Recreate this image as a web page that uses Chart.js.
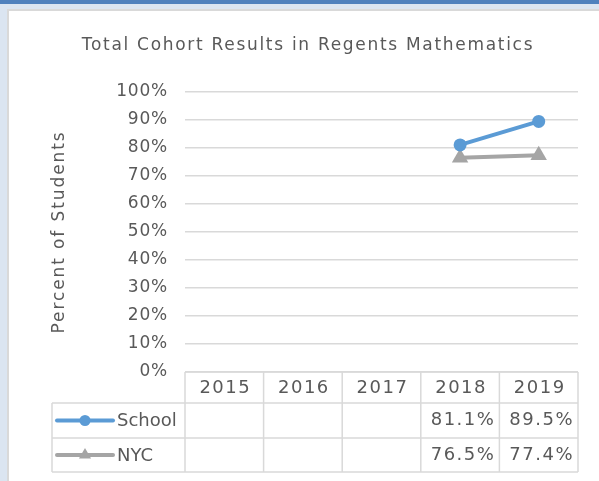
<!DOCTYPE html>
<html>
<head>
<meta charset="utf-8">
<script src="https://cdn.jsdelivr.net/npm/chart.js@4"></script>
<style>
    body { margin: 0; width: 599px; height: 481px; overflow: hidden; background: #dbe5f1; position: relative; }
    #band { position: absolute; left: 0; top: 0; width: 599px; height: 4px; background: #4f81bd; }
    #card { position: absolute; left: 7px; top: 9px; right: 0; bottom: 0; background: #fff; border-left: 2px solid #d9d9d9; border-top: 2px solid #d9d9d9; }
    canvas { position: absolute; left: 0; top: 0; }
</style>
</head>
<body>
<div id="band"></div>
<div id="card"></div>
<canvas id="cohortChart" width="599" height="481"></canvas>
<script>
const years = ['2015', '2016', '2017', '2018', '2019'];
const schoolValues = [null, null, null, 81.1, 89.5];
const nycValues = [null, null, null, 76.5, 77.4];
const yTicks = [0, 10, 20, 30, 40, 50, 60, 70, 80, 90, 100];
const chartTitle = 'Total Cohort Results in Regents Mathematics';
const yTitle = 'Percent of Students';

const textColor = '#595959';
const fontFamily = '"DejaVu Sans", sans-serif';
const schoolColor = '#5b9bd5';
const nycColor = '#a5a5a5';
const borderColor = '#d9d9d9';

// the original font is wide, so spread the letters a bit
const spacing = {
    id: 'spacing',
    beforeUpdate(chart) { chart.ctx.letterSpacing = '0.8px'; },
    beforeDraw(chart) { chart.ctx.letterSpacing = '0.8px'; }
};

// titles drawn by hand so they can get their own letter spacing
const titles = {
    id: 'titles',
    afterDraw(chart) {
        const { ctx, chartArea } = chart;
        ctx.save();
        ctx.fillStyle = textColor;
        ctx.font = '17px ' + fontFamily;
        ctx.textBaseline = 'alphabetic';
        ctx.textAlign = 'center';
        ctx.letterSpacing = '1.7px';
        ctx.fillText(chartTitle, 308, 49.5);

        ctx.translate(64, (chartArea.top + chartArea.bottom) / 2);
        ctx.rotate(-Math.PI / 2);
        ctx.letterSpacing = '1.9px';
        ctx.fillText(yTitle, 0, 0);
        ctx.restore();
    }
};

// draws the Excel style data table under the plot
const dataTable = {
    id: 'dataTable',
    afterDraw(chart) {
        const { ctx, chartArea } = chart;
        const colW = (chartArea.right - chartArea.left) / years.length;
        const top = chartArea.bottom;
        const rows = [top, top + 31, top + 66, top + 100];
        const legendLeft = 52;

        ctx.save();
        ctx.strokeStyle = borderColor;
        ctx.lineWidth = 1.5;
        ctx.beginPath();
        ctx.moveTo(chartArea.left, rows[0]);
        ctx.lineTo(chartArea.right, rows[0]);
        for (let r = 1; r < rows.length; r++) {
            ctx.moveTo(legendLeft, rows[r]);
            ctx.lineTo(chartArea.right, rows[r]);
        }
        ctx.moveTo(legendLeft, rows[1]);
        ctx.lineTo(legendLeft, rows[3]);
        for (let i = 0; i <= years.length; i++) {
            const x = chartArea.left + i * colW;
            ctx.moveTo(x, rows[0]);
            ctx.lineTo(x, rows[3]);
        }
        ctx.stroke();

        ctx.fillStyle = textColor;
        ctx.font = '18px ' + fontFamily;
        ctx.textBaseline = 'middle';
        ctx.letterSpacing = '1.5px';
        ctx.textAlign = 'center';
        years.forEach((y, i) => {
            ctx.fillText(y, chart.scales.x.getPixelForValue(i) + 1, (rows[0] + rows[1]) / 2 + 1);
        });

        const series = [
            { name: 'School', values: schoolValues, color: schoolColor, style: 'circle', r: 5.5 },
            { name: 'NYC', values: nycValues, color: nycColor, style: 'triangle', r: 7 }
        ];
        series.forEach((s, k) => {
            const yMid = (rows[k + 1] + rows[k + 2]) / 2;
            ctx.textAlign = 'right';
            s.values.forEach((v, i) => {
                if (v === null) return;
                ctx.fillText(v.toFixed(1) + '%', chartArea.left + (i + 1) * colW - 4, yMid);
            });
            // legend key
            ctx.strokeStyle = s.color;
            ctx.lineWidth = 4;
            ctx.lineCap = 'round';
            ctx.beginPath();
            ctx.moveTo(57, yMid);
            ctx.lineTo(113, yMid);
            ctx.stroke();
            ctx.fillStyle = s.color;
            Chart.helpers.drawPoint(ctx, { pointStyle: s.style, radius: s.r, borderWidth: 0 }, 85, yMid);
            ctx.fillStyle = textColor;
            ctx.textAlign = 'left';
            ctx.letterSpacing = '0px';
            ctx.fillText(s.name, 117, yMid + 1);
            ctx.letterSpacing = '1.5px';
        });
        ctx.restore();
    }
};

new Chart(document.getElementById('cohortChart').getContext('2d'), {
    type: 'line',
    data: {
        labels: years,
        datasets: [{
            label: 'School',
            data: schoolValues,
            borderColor: schoolColor,
            backgroundColor: schoolColor,
            borderWidth: 4,
            pointStyle: 'circle',
            pointRadius: 6.5,
            pointBorderWidth: 0
        }, {
            label: 'NYC',
            data: nycValues,
            borderColor: nycColor,
            backgroundColor: nycColor,
            borderWidth: 4,
            pointStyle: 'triangle',
            pointRadius: 9.5,
            pointBorderWidth: 0
        }]
    },
    options: {
        responsive: false,
        animation: false,
        layout: { padding: { left: 36, right: 21, top: 92, bottom: 0 } },
        plugins: {
            legend: { display: false },
            tooltip: { enabled: false },
            title: { display: false }
        },
        scales: {
            x: {
                offset: true,
                grid: { display: false },
                border: { display: false },
                ticks: { display: false },
                afterFit: scale => { scale.height = 109; }
            },
            y: {
                min: 0,
                max: 100,
                afterBuildTicks: scale => { scale.ticks = yTicks.map(v => ({ value: v })); },
                grid: { color: borderColor, lineWidth: 1.5, drawTicks: false },
                border: { display: false },
                ticks: {
                    padding: 17,
                    color: textColor,
                    font: { family: fontFamily, size: 17 },
                    callback: v => v + '%'
                },
                afterFit: scale => { scale.width = 149; }
            }
        }
    },
    plugins: [spacing, titles, dataTable]
});
</script>
</body>
</html>
